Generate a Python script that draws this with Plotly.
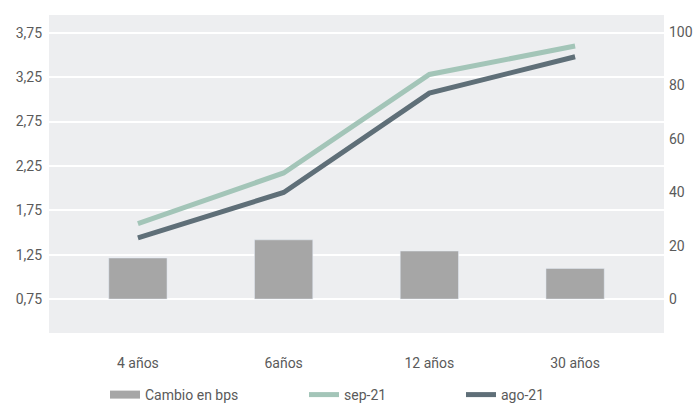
import plotly.graph_objects as go

categories = ["4 años", "6años", "12 años", "30 años"]
cambio_bps = [15.4, 22.2, 18.0, 11.5]
sep_21 = [1.60, 2.17, 3.28, 3.60]
ago_21 = [1.44, 1.95, 3.07, 3.48]
left_ticks = [0.75, 1.25, 1.75, 2.25, 2.75, 3.25, 3.75]
right_ticks = [0, 20, 40, 60, 80, 100]

FONT = "Roboto"
TXT = "#5a5a5a"
BAR_C = "#a6a6a6"
SEP_C = "#a3c5b8"
AGO_C = "#5f6f78"

fig = go.Figure()
fig.add_trace(go.Bar(x=categories, y=cambio_bps, name="Cambio en bps", marker_color=BAR_C,
                     width=0.4, yaxis="y2", showlegend=False))
fig.add_trace(go.Scatter(x=categories, y=sep_21, name="sep-21", mode="lines",
                         line=dict(color=SEP_C, width=5), legend="legend2"))
fig.add_trace(go.Scatter(x=categories, y=ago_21, name="ago-21", mode="lines",
                         line=dict(color=AGO_C, width=5), legend="legend3"))
# legend proxy for the bars
fig.add_trace(go.Scatter(x=[None], y=[None], name="Cambio en bps", mode="lines",
                         line=dict(color=BAR_C, width=8), legend="legend"))

W, H = 698, 405
ml, mr, mt, mb = 49, 34, 15, 72
pw = W - ml - mr
ph = H - mt - mb

def px_to_paper_x(px):
    return (px - ml) / pw

def py_to_paper_y(py):
    return (H - mb - py) / ph

leg_common = dict(orientation="h", yanchor="middle", xanchor="left", bgcolor="rgba(0,0,0,0)",
                  font=dict(family=FONT, size=14, color=TXT))
ly = py_to_paper_y(395)

fig.update_layout(
    width=W, height=H,
    margin=dict(l=ml, r=mr, t=mt, b=mb, autoexpand=False),
    paper_bgcolor="white",
    plot_bgcolor="#edeef0",
    separators=",.",
    font=dict(family=FONT, size=14, color=TXT),
    xaxis=dict(range=[-0.61, 3.61], showgrid=False, zeroline=False, showline=False,
               ticks="", ticklabelstandoff=20, tickfont=dict(size=14, color=TXT)),
    yaxis=dict(range=[0.367, 3.95], tickvals=left_ticks, tickformat=".2f",
               showgrid=True, gridcolor="white", gridwidth=2, zeroline=False,
               ticks="", ticklabelstandoff=6, tickfont=dict(size=14, color=TXT)),
    yaxis2=dict(range=[-12.7, 106.4], tickvals=right_ticks, overlaying="y", side="right",
                showgrid=False, zeroline=False, ticks="", ticklabelstandoff=4,
                tickfont=dict(size=14, color=TXT)),
    legend=dict(x=px_to_paper_x(105), y=ly, **leg_common),
    legend2=dict(x=px_to_paper_x(304), y=ly, **leg_common),
    legend3=dict(x=px_to_paper_x(461), y=ly, **leg_common),
)

fig.write_html("out.html", config={"displayModeBar": False},
               post_script="document.body.style.margin='0';document.body.style.overflow='hidden';")
